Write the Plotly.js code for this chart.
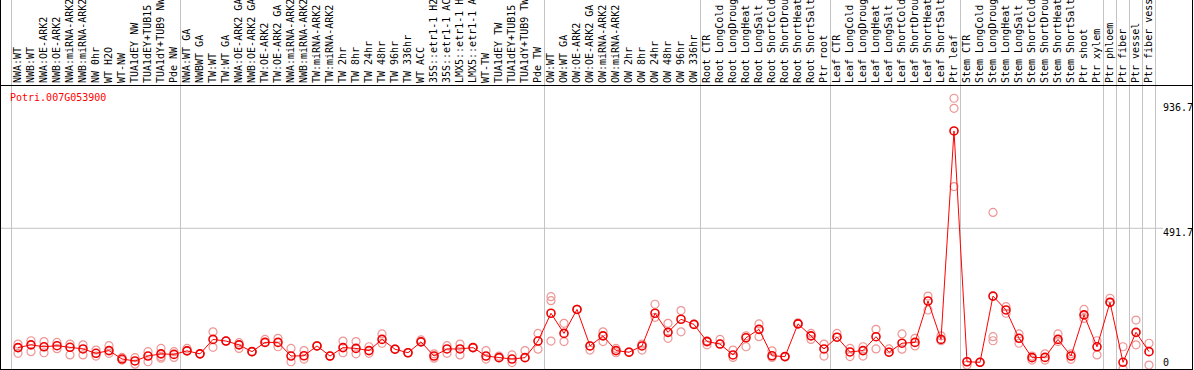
<!DOCTYPE html>
<html><head><meta charset="utf-8">
<script src="https://cdn.plot.ly/plotly-3.0.1.min.js"></script>
<style>html,body{margin:0;padding:0;background:#fff;overflow:hidden}#chart{width:1194px;height:370px}</style>
</head><body><div id="chart"></div>
<script>
const geneId = 'Potri.007G053900';

const categories = [
  'NWA:WT','NWB:WT','NWA:OE-ARK2','NWB:OE-ARK2','NWA:miRNA-ARK2','NWB:miRNA-ARK2','NW 0hr','WT H2O','WT-NW','TUA1dEY NW','TUA1dEY+TUB15 NW','TUA1dY+TUB9 NW','Pde NW',
  'NWA:WT GA','NWBWT GA','TW:WT','TW:WT GA','NWA:OE-ARK2 GA','NWB:OE-ARK2 GA','TW:OE-ARK2','TW:OE-ARK2 GA','NWA:miRNA-ARK2 GA','NWB:miRNA-ARK2 GA','TW:miRNA-ARK2','TW:miRNA-ARK2 GA','TW 2hr','TW 8hr','TW 24hr','TW 48hr','TW 96hr','TW 336hr','WT ACC','35S::etr1-1 H2O','35S::etr1-1 ACC','LMX5::etr1-1 H2O','LMX5::etr1-1 ACC','WT-TW','TUA1dEY TW','TUA1dEY+TUB15 TW','TUA1dY+TUB9 TW','Pde TW',
  'OW:WT','OW:WT GA','OW:OE-ARK2','OW:OE-ARK2 GA','OW:miRNA-ARK2','OW:miRNA-ARK2 GA','OW 2hr','OW 8hr','OW 24hr','OW 48hr','OW 96hr','OW 336hr',
  'Root CTR','Root LongCold','Root LongDrought','Root LongHeat','Root LongSalt','Root ShortCold','Root ShortDrought','Root ShortHeat','Root ShortSalt','Ptr root',
  'Leaf CTR','Leaf LongCold','Leaf LongDrought','Leaf LongHeat','Leaf LongSalt','Leaf ShortCold','Leaf ShortDrought','Leaf ShortHeat','Leaf ShortSalt','Ptr leaf',
  'Stem CTR','Stem LongCold','Stem LongDrought','Stem LongHeat','Stem LongSalt','Stem ShortCold','Stem ShortDrought','Stem ShortHeat','Stem ShortSalt','Ptr shoot','Ptr xylem',
  'Ptr phloem','Ptr fiber','Ptr vessel','Ptr fiber vessel'
];

const groupSizes = [13, 28, 12, 10, 10, 11, 1, 1, 1, 1];

const meanValues = [
  54,64,57,61,55,49,33,43,12,5,23,31,29,
  42,31,84,78,64,39,73,73,23,24,60,23,54,51,43,84,48,35,75,23,49,49,54,23,17,12,17,78,
  180,106,194,60,97,43,37,60,180,110,158,139,
  76,67,27,90,121,24,21,141,97,49,
  92,38,43,94,37,70,73,225,84,849,
  2,0,243,192,88,17,18,84,23,174,57,
  220,0,110,39
];

const replicate1 = [
  67,79,76,73,67,64,45,61,18,17,39,51,39,
  51,31,112,78,72,39,84,88,51,43,60,23,78,76,57,104,48,35,82,31,61,67,54,43,23,27,43,106,
  241,143,194,60,112,51,37,67,213,143,190,139,
  79,84,45,97,141,42,21,145,106,67,
  106,51,57,121,49,104,88,243,97,969,
  2,0,550,204,104,23,31,104,31,194,79,
  235,57,155,70
];

const replicate2 = [
  33,39,35,50,27,27,23,33,8,-7,2,15,18,
  43,31,55,78,51,39,73,57,2,12,60,23,35,31,33,70,48,35,75,15,33,27,54,12,17,-1,17,48,
  78,76,194,45,76,35,37,45,165,88,112,139,
  64,67,18,57,94,18,21,141,84,23,
  92,21,23,49,37,48,60,192,79,645,
  -10,0,79,180,70,8,8,76,11,161,27,
  220,-25,64,-10
];

const replicate3 = [
  54,null,null,null,null,null,null,null,null,null,null,21,null,
  null,null,null,null,null,null,null,null,null,null,null,null,null,null,null,null,null,null,null,null,null,null,null,null,null,null,null,null,
  226,null,null,null,null,null,null,null,null,null,null,null,
  null,null,null,null,null,null,null,null,null,null,
  null,null,null,null,null,null,null,null,null,932,
  null,null,94,null,null,null,null,null,null,null,null,
  null,null,null,null
];

const axisLabelValues = [936.7, 491.7, 0];
const gridValues = [491.7];

// ---------- layout geometry (styles) ----------
const W = 1194, H = 370;
const mL = 1, mR = 2, mT = 86, mB = 1;
const plotW = W - mL - mR, plotH = H - mT - mB;
const colW = 13, firstCenter = 18;
const zeroPx = 362.3, pxPerUnit = 0.2725;
const xRange = [(mL - firstCenter) / colW, (mL + plotW - firstCenter) / colW];
const yRange = [(zeroPx - (mT + plotH)) / pxPerUnit, (zeroPx - mT) / pxPerUnit];
const pxToPaperX = px => (px - mL) / plotW;
const pxToPaperY = py => (mT + plotH - py) / plotH;
const labelShift = [0, -4, 0];

const idx = categories.map((_, i) => i);

// replicate points
const rx = [], ry = [];
[replicate1, replicate2, replicate3].forEach(arr => {
  arr.forEach((v, i) => { if (v !== null) { rx.push(i); ry.push(v); } });
});

const traces = [
  {
    type: 'scatter', mode: 'markers', x: rx, y: ry, hoverinfo: 'skip',
    marker: {symbol: 'circle-open', size: 8, color: 'rgb(238,150,150)', line: {width: 1.2}},
    showlegend: false
  },
  {
    type: 'scatter', mode: 'lines+markers', x: idx, y: meanValues,
    line: {color: '#ff0000', width: 1},
    marker: {symbol: 'circle-open', size: 8, color: '#ee0000', line: {width: 1.6}},
    showlegend: false
  }
];

// group separator lines
const shapes = [];
let b = 0;
const bounds = [0];
groupSizes.forEach(s => { b += s; bounds.push(b); });
bounds.forEach(bd => {
  shapes.push({type: 'line', xref: 'x', yref: 'paper', x0: bd - 0.5, x1: bd - 0.5, y0: 0, y1: pxToPaperY(-2),
    line: {color: '#c4c4c4', width: 1}, layer: 'below'});
});
gridValues.forEach(v => {
  shapes.push({type: 'line', xref: 'paper', yref: 'y', x0: 0, x1: pxToPaperX(1163), y0: v, y1: v,
    line: {color: '#c4c4c4', width: 1}, layer: 'below'});
});
// outer frame extensions into label area
shapes.push({type: 'line', xref: 'paper', yref: 'paper', x0: pxToPaperX(0.5), x1: pxToPaperX(0.5), y0: 1, y1: pxToPaperY(-2), line: {color: '#000', width: 1}});
shapes.push({type: 'line', xref: 'paper', yref: 'paper', x0: pxToPaperX(1192.5), x1: pxToPaperX(1192.5), y0: 1, y1: pxToPaperY(-2), line: {color: '#000', width: 1}});

const annotations = [
  {text: geneId, xref: 'paper', yref: 'paper', x: pxToPaperX(10), y: pxToPaperY(97.5), xanchor: 'left', yanchor: 'middle',
   xshift: -2, showarrow: false, font: {family: 'DejaVu Sans Mono', size: 10, color: '#ff0000'}}
];
axisLabelValues.forEach((v, k) => {
  annotations.push({text: String(v), xref: 'paper', yref: 'y', x: pxToPaperX(1163), y: v, yshift: labelShift[k],
    xanchor: 'left', yanchor: 'middle', xshift: -2, showarrow: false,
    font: {family: 'DejaVu Sans Mono', size: 10, color: '#000'}});
});

const layout = {
  width: W, height: H,
  margin: {l: mL, r: mR, t: mT, b: mB, pad: 0},
  paper_bgcolor: '#fff', plot_bgcolor: '#fff',
  showlegend: false,
  xaxis: {
    range: xRange, tickmode: 'array', tickvals: idx, ticktext: categories,
    side: 'top', tickangle: -90, ticks: '', showgrid: false, zeroline: false,
    showline: true, mirror: true, linecolor: '#000', linewidth: 1,
    tickfont: {family: 'DejaVu Sans Mono', size: 10, color: '#000'},
    automargin: false, fixedrange: true
  },
  yaxis: {
    range: yRange, showticklabels: false, ticks: '', showgrid: false, zeroline: false,
    showline: true, mirror: true, linecolor: '#000', linewidth: 1, automargin: false, fixedrange: true
  },
  shapes: shapes,
  annotations: annotations
};

Plotly.newPlot('chart', traces, layout, {staticPlot: true, displayModeBar: false});
</script></body></html>
